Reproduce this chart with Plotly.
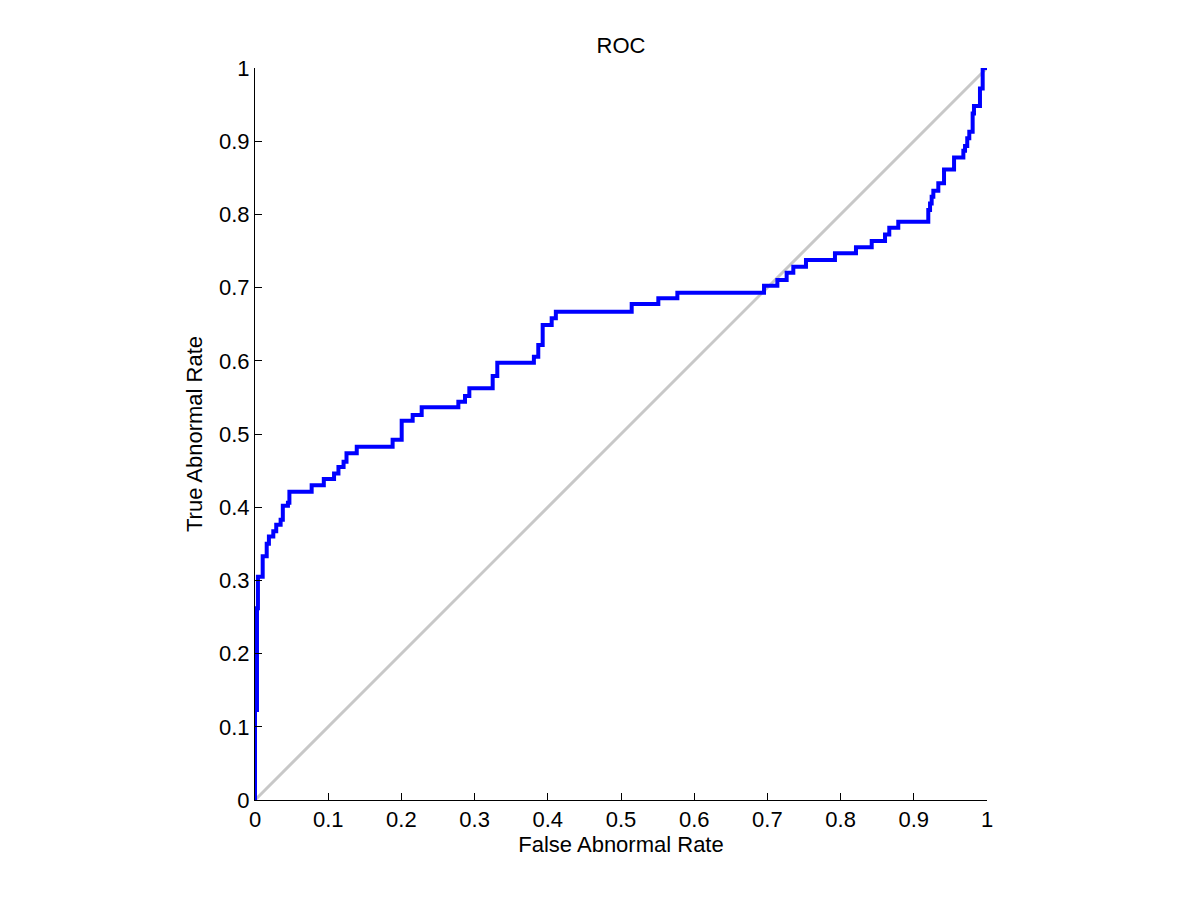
import plotly.graph_objects as go

# ROC curve corners (x where the curve rises, y after the rise)
false_rate = [0.0, 0.0, 0.0027, 0.004, 0.0105, 0.016, 0.019, 0.025, 0.029, 0.035,
              0.038, 0.045, 0.047, 0.0774, 0.094, 0.108, 0.114, 0.121, 0.125, 0.139,
              0.188, 0.2004, 0.2154, 0.2277, 0.2778, 0.2869, 0.2928, 0.3247, 0.331, 0.381,
              0.387, 0.393, 0.4053, 0.411, 0.5146, 0.551, 0.577, 0.6954, 0.7136, 0.7263,
              0.7354, 0.7527, 0.7923, 0.821, 0.8425, 0.8607, 0.8665, 0.8788, 0.9198, 0.9222,
              0.9244, 0.9267, 0.9335, 0.9413, 0.955, 0.9677, 0.970, 0.973, 0.9758, 0.9804,
              0.9822, 0.9904, 0.9941, 1.0]
true_rate = [0.0, 0.123, 0.262, 0.305, 0.333, 0.35, 0.36, 0.367, 0.376, 0.383,
             0.402, 0.406, 0.421, 0.430, 0.4385, 0.446, 0.455, 0.462, 0.4736, 0.4827,
             0.492, 0.518, 0.526, 0.5364, 0.544, 0.552, 0.5624, 0.5792, 0.5974, 0.6056,
             0.6216, 0.6489, 0.658, 0.667, 0.6776, 0.6853, 0.693, 0.7026, 0.7104, 0.7204,
             0.7286, 0.7377, 0.7468, 0.755, 0.7637, 0.7727, 0.7818, 0.79, 0.806, 0.815,
             0.824, 0.8324, 0.8424, 0.8615, 0.8778, 0.8869, 0.8934, 0.904, 0.913, 0.938,
             0.948, 0.972, 1.0, 1.0]

chance_x = [0, 1]
chance_y = [0, 1]

tick_vals = [0, 0.1, 0.2, 0.3, 0.4, 0.5, 0.6, 0.7, 0.8, 0.9, 1]
tick_text = ["0", "0.1", "0.2", "0.3", "0.4", "0.5", "0.6", "0.7", "0.8", "0.9", "1"]

fig = go.Figure()
fig.add_trace(go.Scatter(x=chance_x, y=chance_y, mode="lines",
                         line=dict(color="#c8c8c8", width=3), showlegend=False))
fig.add_trace(go.Scatter(x=false_rate, y=true_rate, mode="lines",
                         line=dict(color="#0000ff", width=4, shape="hv"),
                         showlegend=False))

axis_style = dict(range=[0, 1], showgrid=False, zeroline=False, showline=True,
                  linecolor="black", linewidth=1, ticks="inside", ticklen=7,
                  tickcolor="black", tickvals=tick_vals, ticktext=tick_text,
                  tickfont=dict(size=22, color="black"))

# page body adds 8px, so the figure is a bit smaller than the window
fig.update_layout(
    width=1184, height=884,
    font=dict(family="Liberation Sans, Arial, sans-serif", size=22, color="black"),
    paper_bgcolor="white", plot_bgcolor="white",
    margin=dict(l=247, r=205, t=60, b=92),
    title=dict(text="ROC", x=0.5, xref="paper", y=1 - 37 / 884, yanchor="middle",
               font=dict(size=22)),
    xaxis=dict(title=dict(text="False Abnormal Rate", standoff=0, font=dict(size=22)),
               **axis_style),
    yaxis=dict(title=dict(text="True Abnormal Rate", standoff=10, font=dict(size=22)),
               **axis_style),
)

fig.write_html("out.html")
